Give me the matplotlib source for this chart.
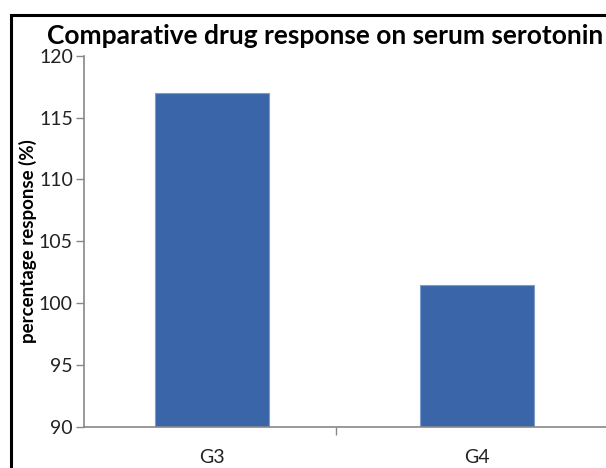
import matplotlib
matplotlib.use("Agg")
import matplotlib.pyplot as plt
from matplotlib.patches import Rectangle

groups = ["G3", "G4"]
response = [117.0, 101.5]
y_ticks = [90, 95, 100, 105, 110, 115, 120]

plt.rcParams['font.family'] = ['Lato', 'DejaVu Sans']

fig = plt.figure(figsize=(6.06, 4.68), dpi=100)
ax = fig.add_axes([0.1386, 0.0882, 0.911, 0.7927])

x = list(range(len(groups)))
ax.bar(x, response, width=0.43, color='#3A65A8', edgecolor='#7C9DCB', linewidth=0.8, zorder=2)

ax.set_ylim(90, 120)
ax.set_xlim(-0.484, 1.6)
ax.set_yticks(y_ticks)
ax.set_yticklabels([str(t) for t in y_ticks], fontsize=14, color='#222222')
ax.set_xticks(x)
ax.set_xticklabels(groups, fontsize=14, color='#222222')
ax.tick_params(axis='x', length=0, pad=16)
ax.tick_params(axis='y', length=6, width=1, color='#888888', pad=2)
# tick between the two categories
ax.set_xticks([0.466], minor=True)
ax.tick_params(axis='x', which='minor', length=6, width=1, color='#888888')

for side in ['top', 'right']:
    ax.spines[side].set_visible(False)
for side in ['left', 'bottom']:
    ax.spines[side].set_color('#888888')
    ax.spines[side].set_linewidth(1.2)

ax.set_ylabel("percentage response (%)", fontsize=13.5, fontweight='bold')
ax.yaxis.set_label_coords(-0.0855, 0.5)

fig.text(47 / 606, 1 - 44 / 468, "Comparative drug response on serum serotonin",
         fontsize=19, fontweight='bold', va='baseline', ha='left')

# black frame of the original picture, cut off at right and bottom
fig.patches.append(Rectangle((11 / 606, -0.1), 1.2, 1 - 15 / 468 + 0.1,
                             transform=fig.transFigure, fill=False,
                             edgecolor='black', linewidth=2.2, zorder=0))

fig.savefig("out.png", dpi=100)
